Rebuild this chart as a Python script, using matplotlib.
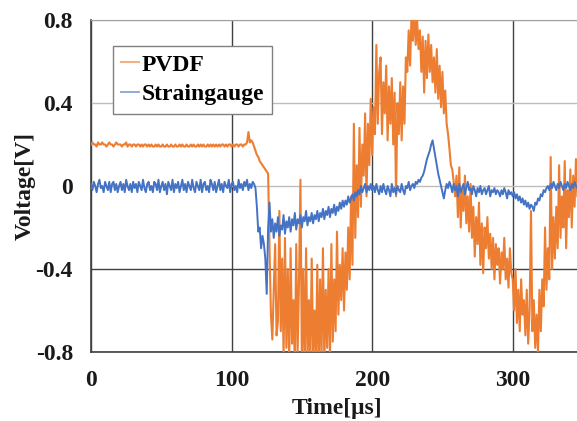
import numpy as np
import matplotlib
matplotlib.use('Agg')
import matplotlib.pyplot as plt

# PVDF sensor output [V], one sample per microsecond from t = 0
pvdf = [
    0.20, 0.21, 0.20, 0.20, 0.19, 0.21, 0.20, 0.20, 0.21, 0.20,
    0.20, 0.19, 0.20, 0.21, 0.20, 0.20, 0.19, 0.20, 0.21, 0.20,
    0.20, 0.20, 0.19, 0.20, 0.20, 0.21, 0.19, 0.20, 0.20, 0.19,
    0.20, 0.20, 0.19, 0.20, 0.20, 0.19, 0.20, 0.19, 0.20, 0.20,
    0.19, 0.20, 0.19, 0.20, 0.19, 0.19, 0.20, 0.19, 0.20, 0.19,
    0.19, 0.20, 0.19, 0.19, 0.20, 0.19, 0.19, 0.20, 0.19, 0.19,
    0.20, 0.19, 0.19, 0.20, 0.19, 0.20, 0.19, 0.19, 0.20, 0.19,
    0.19, 0.20, 0.19, 0.20, 0.19, 0.19, 0.20, 0.19, 0.20, 0.19,
    0.20, 0.19, 0.19, 0.20, 0.19, 0.20, 0.19, 0.20, 0.19, 0.20,
    0.19, 0.20, 0.19, 0.20, 0.20, 0.19, 0.20, 0.19, 0.20, 0.20,
    0.19, 0.20, 0.19, 0.20, 0.20, 0.19, 0.20, 0.20, 0.19, 0.20,
    0.20, 0.21, 0.26, 0.21, 0.22, 0.21, 0.19, 0.17, 0.15, 0.14,
    0.12, 0.11, 0.10, 0.09, 0.08, 0.07, 0.06, -0.30, -0.62, -0.74,
    -0.50, -0.28, -0.72, -0.65, -0.12, -0.70, -0.35, -0.82, -0.25, -0.78,
    -0.40, -0.85, -0.30, -0.76, -0.55, -0.88, -0.28, -0.80, -0.45, 0.03,
    -0.85, -0.40, -0.90, -0.30, -0.82, -0.55, -0.88, -0.35, -0.80, -0.60,
    -0.85, -0.38, -0.90, -0.45, -0.82, -0.30, -0.86, -0.50, -0.78, -0.40,
    -0.84, -0.28, -0.75, -0.45, -0.70, -0.22, -0.62, -0.38, -0.55, -0.30,
    -0.60, -0.32, -0.50, -0.20, -0.45, -0.05, -0.38, 0.30, -0.25, 0.10,
    -0.15, 0.28, -0.10, 0.20, 0.05, 0.35, -0.05, 0.30, 0.10, 0.42,
    0.15, 0.38, 0.25, 0.68, 0.30, 0.55, 0.62, 0.25, 0.50, 0.35,
    0.58, 0.22, 0.48, 0.30, 0.52, 0.20, 0.45, -0.05, 0.40, 0.25,
    0.50, 0.22, 0.48, 0.30, 0.62, 0.55, 0.75, 0.58, 0.82, 0.70,
    0.85, 0.68, 0.80, 0.66, 0.75, 0.55, 0.72, 0.45, 0.70, 0.52,
    0.73, 0.55, 0.68, 0.50, 0.62, 0.45, 0.66, 0.42, 0.58, 0.38,
    0.55, 0.35, 0.46, 0.30, 0.25, 0.18, 0.10, 0.08, 0.02, -0.05,
    0.05, -0.15, 0.09, -0.20, -0.02, -0.12, 0.05, -0.18, -0.05, -0.22,
    0.01, -0.25, -0.10, -0.34, -0.15, -0.28, -0.08, -0.38, -0.18, -0.42,
    -0.20, -0.30, -0.15, -0.35, -0.23, -0.40, -0.25, -0.45, -0.28, -0.38,
    -0.30, -0.47, -0.32, -0.40, -0.25, -0.45, -0.35, -0.49, -0.30, -0.42,
    -0.45, -0.60, -0.40, -0.66, -0.50, -0.70, -0.45, -0.62, -0.55, -0.72,
    -0.50, -0.76, -0.60, -0.12, -0.70, -0.55, -0.78, -0.62, -0.80, -0.50,
    -0.70, -0.45, -0.58, -0.20, -0.50, -0.30, -0.45, 0.14, -0.40, -0.15,
    -0.35, -0.10, -0.30, 0.10, -0.25, -0.05, -0.20, 0.12, -0.30, -0.02,
    -0.15, 0.08, -0.20, 0.05, -0.10, 0.13, -0.05,
]

# strain gauge output [V], same sampling
strain = [
    0.01, -0.02, 0.02, 0.00, -0.03, 0.01, 0.03, -0.01, 0.00, -0.03,
    0.02, 0.00, -0.02, 0.02, -0.03, 0.01, 0.02, -0.02, 0.01, -0.03,
    0.00, 0.02, -0.02, 0.01, -0.03, 0.03, 0.00, -0.02, 0.01, -0.03,
    0.02, -0.01, 0.01, -0.03, 0.02, 0.00, -0.02, 0.03, -0.01, -0.03,
    0.01, 0.02, -0.02, 0.00, -0.03, 0.02, 0.01, -0.02, 0.03, -0.03,
    0.00, 0.02, -0.02, 0.01, -0.04, 0.02, 0.00, -0.02, 0.03, -0.03,
    0.01, -0.01, 0.02, -0.03, 0.00, 0.03, -0.02, 0.01, -0.03, 0.02,
    0.00, -0.02, 0.03, -0.01, -0.03, 0.02, 0.00, -0.02, 0.03, -0.03,
    0.01, 0.02, -0.02, 0.00, -0.03, 0.03, 0.01, -0.02, 0.02, -0.03,
    0.00, 0.03, -0.02, 0.01, -0.03, 0.02, 0.00, -0.01, 0.03, -0.03,
    0.01, 0.02, -0.02, 0.00, -0.03, 0.03, -0.01, 0.01, -0.02, 0.02,
    0.00, 0.03, -0.02, 0.01, -0.01, 0.02, 0.01, -0.01, -0.10, -0.22,
    -0.20, -0.30, -0.24, -0.28, -0.35, -0.52, -0.20, -0.08, -0.22, -0.16,
    -0.25, -0.18, -0.22, -0.15, -0.24, -0.19, -0.21, -0.14, -0.23, -0.17,
    -0.20, -0.15, -0.22, -0.16, -0.19, -0.13, -0.21, -0.16, -0.18, -0.14,
    -0.20, -0.15, -0.17, -0.12, -0.19, -0.15, -0.17, -0.13, -0.18, -0.14,
    -0.16, -0.12, -0.17, -0.13, -0.15, -0.11, -0.16, -0.12, -0.14, -0.10,
    -0.15, -0.11, -0.13, -0.09, -0.14, -0.10, -0.12, -0.08, -0.11, -0.07,
    -0.10, -0.07, -0.09, -0.05, -0.08, -0.06, -0.04, -0.07, -0.03, -0.05,
    -0.02, -0.04, 0.00, -0.03, -0.01, 0.01, -0.03, 0.00, -0.02, 0.01,
    -0.02, 0.00, -0.03, 0.01, -0.02, -0.04, 0.00, -0.03, 0.01, -0.02,
    -0.04, 0.00, -0.02, -0.05, 0.01, -0.03, -0.01, -0.04, 0.00, -0.02,
    -0.03, 0.01, -0.02, -0.04, 0.00, -0.01, 0.02, -0.02, 0.00, 0.01,
    -0.01, 0.02, 0.01, 0.03, 0.02, 0.04, 0.05, 0.07, 0.10, 0.13,
    0.15, 0.17, 0.20, 0.22, 0.18, 0.14, 0.10, 0.06, 0.03, 0.00,
    -0.03, -0.06, -0.02, 0.01, -0.01, 0.02, 0.00, -0.03, 0.01, -0.02,
    0.00, -0.05, 0.01, -0.03, -0.01, 0.01, -0.04, -0.01, 0.02, -0.02,
    -0.01, -0.04, 0.00, -0.02, -0.05, -0.01, -0.03, 0.00, -0.04, -0.02,
    -0.01, -0.04, -0.02, 0.00, -0.05, -0.02, -0.03, -0.01, -0.04, -0.02,
    -0.03, -0.05, -0.02, -0.04, -0.01, -0.03, -0.06, -0.02, -0.04, -0.03,
    -0.05, -0.03, -0.06, -0.04, -0.07, -0.05, -0.08, -0.06, -0.09, -0.07,
    -0.10, -0.08, -0.11, -0.09, -0.10, -0.12, -0.08, -0.09, -0.06, -0.07,
    -0.04, -0.05, -0.02, -0.03, -0.01, 0.00, -0.02, 0.01, -0.01, 0.02,
    0.00, -0.02, 0.01, -0.01, 0.02, 0.00, -0.02, 0.01, -0.01, 0.02,
    0.00, -0.02, 0.01, -0.01, 0.02, 0.00, -0.01,
]

xticks = [0, 100, 200, 300]
yticks = [-0.8, -0.4, 0, 0.4, 0.8]
ytick_labels = ['-0.8', '-0.4', '0', '0.4', '0.8']

t_pvdf = np.arange(len(pvdf))
t_strain = np.arange(len(strain))

plt.rcParams['font.family'] = ['Liberation Serif', 'DejaVu Serif']
plt.rcParams['font.weight'] = 'bold'
plt.rcParams['axes.labelweight'] = 'bold'
plt.rcParams['font.size'] = 17

fig = plt.figure(figsize=(5.77, 4.21), dpi=100)
# axes run past the right edge of the picture, as in the original crop
ax = fig.add_axes([91/577, 1 - 352/421, 492/577, 332/421])

ax.plot(t_pvdf, pvdf, color='#ED7D31', lw=1.5, label='PVDF', zorder=3)
ax.plot(t_strain, strain, color='#4472C4', lw=1.4, label='Straingauge', zorder=4)

ax.set_xlim(0, 350)
ax.set_ylim(-0.8, 0.8)
ax.set_xticks(xticks)
ax.set_yticks(yticks)
ax.set_yticklabels(ytick_labels)
ax.tick_params(length=0, colors='#1a1a1a', labelsize=17)
ax.tick_params(axis='y', pad=13)
ax.tick_params(axis='x', pad=13)

ax.grid(True, lw=1.0)
for ln in ax.get_xgridlines():
    ln.set_color('#404040')
for ln, v in zip(ax.get_ygridlines(), yticks):
    ln.set_color('#404040' if v < 0 else '#bdbdbd')

for side in ['left', 'bottom']:
    ax.spines[side].set_color('#404040')
    ax.spines[side].set_linewidth(1.2)
ax.spines['top'].set_color('#a0a0a0')
ax.spines['right'].set_visible(False)

ax.set_xlabel('Time[\u03bcs]', fontsize=17, fontweight='bold', color='#1a1a1a')
ax.set_ylabel('Voltage[V]', fontsize=17, fontweight='bold', color='#1a1a1a')
ax.xaxis.set_label_coords(0.5, -0.14)
ax.yaxis.set_label_coords(-0.112, 0.5)

leg = ax.legend(loc='upper left', bbox_to_anchor=(0.045, 0.922), borderaxespad=0,
                fancybox=False, framealpha=1, edgecolor='#808080',
                handlelength=0.75, handletextpad=0.1, labelspacing=0.35,
                borderpad=0.35, prop={'size': 17, 'weight': 'bold'})
leg.get_frame().set_linewidth(1.0)
for h in leg.get_lines():
    h.set_alpha(0.6)

fig.savefig('out.png', dpi=100)
